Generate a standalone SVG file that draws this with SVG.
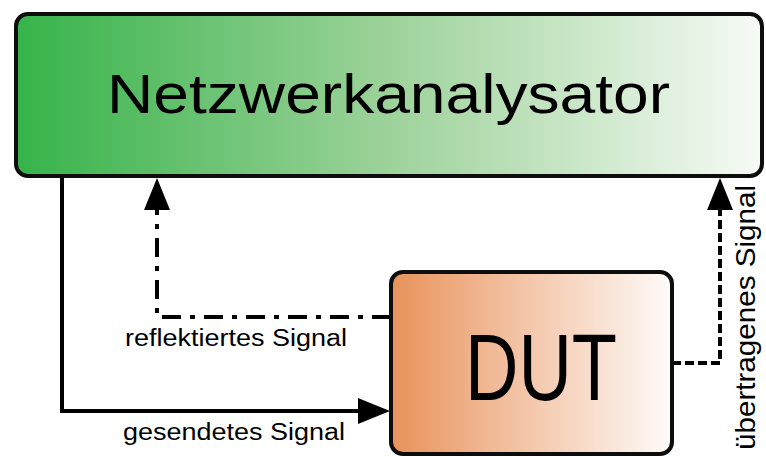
<svg xmlns="http://www.w3.org/2000/svg" width="766" height="457" viewBox="0 0 766 457">
  <defs>
    <linearGradient id="gradGreen" x1="0" y1="0" x2="1" y2="0">
      <stop offset="0" stop-color="#36b34a"/>
      <stop offset="0.5" stop-color="#9dd29a"/>
      <stop offset="1" stop-color="#f7fbf6"/>
    </linearGradient>
    <linearGradient id="gradOrange" x1="0" y1="0" x2="1" y2="0">
      <stop offset="0" stop-color="#e8925a"/>
      <stop offset="0.5" stop-color="#f4c8ad"/>
      <stop offset="1" stop-color="#fefbf9"/>
    </linearGradient>
    <marker id="arrow" markerUnits="userSpaceOnUse" markerWidth="32" markerHeight="26" viewBox="0 0 32 26" refX="0" refY="13" orient="auto" overflow="visible">
      <path d="M0,0 L32,13 L0,26 Z" fill="#000"/>
    </marker>
    <style>
      .box { stroke: #0d0d0d; stroke-width: 4; }
      .wire { fill: none; stroke: #000; stroke-width: 4; marker-end: url(#arrow); }
      .dashdot { stroke-dasharray: 19 9 5 9; }
      .dashed { stroke-dasharray: 9 4; }
      .label { font-family: "Liberation Sans", Arial, sans-serif; fill: #000; }
    </style>
  </defs>

  <!-- connectors -->
  <g id="connectors">
    <!-- sent signal: analyser to DUT -->
    <path class="wire" d="M62,176 V411 H358"/>
    <!-- reflected signal: DUT back to analyser -->
    <path class="wire dashdot" d="M391,317 H157 V210"/>
    <!-- transmitted signal: DUT output to analyser -->
    <path class="wire dashed" d="M672,363 H720 V210"/>
    <text class="label" x="125" y="346" font-size="23" textLength="222" lengthAdjust="spacingAndGlyphs">reflektiertes Signal</text>
    <text class="label" x="123" y="440" font-size="23" textLength="222" lengthAdjust="spacingAndGlyphs">gesendetes Signal</text>
    <text class="label" transform="translate(755,450) rotate(-90)" font-size="28" textLength="265" lengthAdjust="spacingAndGlyphs">übertragenes Signal</text>
  </g>

  <!-- network analyser -->
  <g id="analyser">
    <rect class="box" x="16" y="14" width="746" height="162" rx="12" fill="url(#gradGreen)"/>
    <text class="label" x="107" y="113" font-size="55" textLength="563" lengthAdjust="spacingAndGlyphs">Netzwerkanalysator</text>
  </g>

  <!-- device under test -->
  <g id="dut">
    <rect class="box" x="391" y="272" width="281" height="182" rx="12" fill="url(#gradOrange)"/>
    <text class="label" x="465" y="400" font-size="94" textLength="152" lengthAdjust="spacingAndGlyphs">DUT</text>
  </g>
</svg>
